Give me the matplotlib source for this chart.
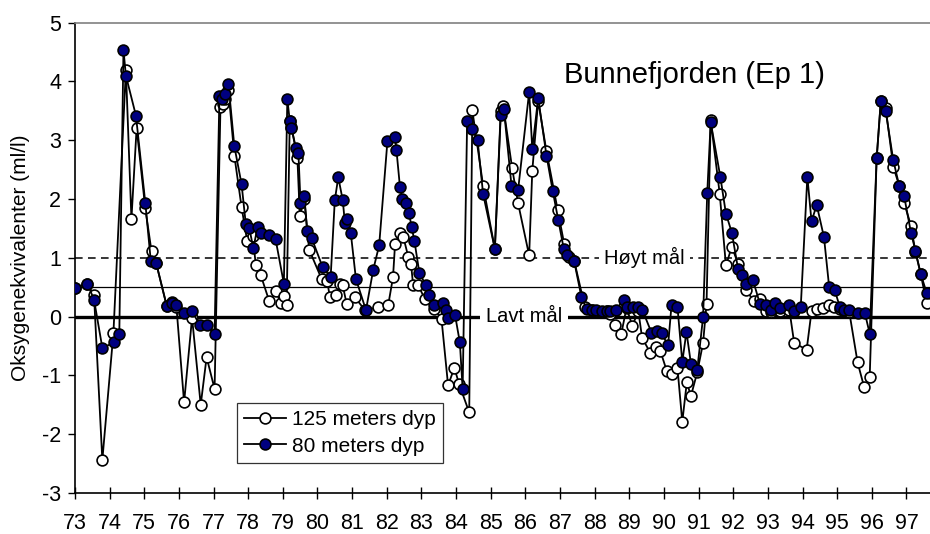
import matplotlib
matplotlib.use("Agg")
import matplotlib.pyplot as plt

plt.rcParams["font.family"] = ["Liberation Sans", "DejaVu Sans"]
plt.rcParams["axes.unicode_minus"] = False

# 125 meters dyp (open markers)
x125 = [73.00, 73.36, 73.55, 73.79, 74.11, 74.47, 74.63, 74.78, 75.03, 75.21,
        75.34, 75.65, 75.81, 75.93, 76.15, 76.38, 76.63, 76.80, 77.03, 77.20,
        77.28, 77.33, 77.43, 77.60, 77.81, 77.97, 78.13, 78.22, 78.36, 78.61,
        78.79, 78.95, 79.03, 79.11, 79.20, 79.25, 79.42, 79.49, 79.62, 79.76,
        80.12, 80.28, 80.36, 80.53, 80.65, 80.73, 80.84, 81.08, 81.37, 81.75,
        82.04, 82.18, 82.24, 82.38, 82.48, 82.62, 82.70, 82.76, 82.91, 83.10,
        83.37, 83.58, 83.77, 83.95, 84.09, 84.38, 84.47, 84.78, 85.12, 85.29,
        85.36, 85.62, 85.79, 86.11, 86.20, 86.37, 86.61, 86.93, 87.12, 87.27,
        87.41, 87.72, 87.91, 88.05, 88.20, 88.35, 88.45, 88.60, 88.77, 88.92,
        89.09, 89.26, 89.37, 89.61, 89.76, 89.90, 90.08, 90.22, 90.39, 90.53,
        90.66, 90.78, 90.96, 91.13, 91.23, 91.35, 91.61, 91.79, 91.96, 92.14,
        92.36, 92.60, 92.77, 92.94, 93.08, 93.20, 93.35, 93.62, 93.76, 94.12,
        94.26, 94.41, 94.60, 94.77, 94.91, 95.08, 95.19, 95.35, 95.59, 95.78,
        95.94, 96.14, 96.26, 96.40, 96.62, 96.79, 96.93, 97.13, 97.26, 97.41,
        97.58]
y125 = [0.49, 0.56, 0.36, -2.44, -0.28, 4.20, 1.66, 3.21, 1.84, 1.11,
        0.92, 0.18, 0.25, 0.16, -1.46, -0.02, -1.50, -0.69, -1.23, 3.57,
        3.62, 3.70, 3.85, 2.74, 1.86, 1.29, 1.37, 0.88, 0.71, 0.26,
        0.43, 0.24, 0.35, 0.19, 3.33, 3.22, 2.70, 1.72, 2.00, 1.14,
        0.64, 0.60, 0.33, 0.37, 0.56, 0.53, 0.22, 0.33, 0.11, 0.16,
        0.19, 0.67, 1.24, 1.42, 1.35, 1.02, 0.90, 0.54, 0.53, 0.30,
        0.13, -0.04, -1.17, -0.87, -1.15, -1.63, 3.51, 2.23, 1.15, 3.50,
        3.59, 2.52, 1.93, 1.04, 2.48, 3.67, 2.81, 1.82, 1.24, 1.01,
        0.95, 0.16, 0.12, 0.10, 0.08, 0.10, 0.05, -0.14, -0.29, 0.15,
        -0.16, 0.10, -0.36, -0.62, -0.52, -0.59, -0.92, -0.97, -0.87, -1.79,
        -1.12, -1.35, -0.95, -0.45, 0.22, 3.34, 2.09, 0.87, 1.19, 0.90,
        0.45, 0.27, 0.30, 0.10, 0.08, 0.20, 0.10, 0.12, -0.45, -0.56,
        0.09, 0.13, 0.15, 0.19, 0.17, 0.13, 0.10, 0.08, -0.78, -1.20,
        -1.02, 2.69, 3.67, 3.55, 2.55, 2.23, 1.94, 1.55, 1.10, 0.73,
        0.24]

# 80 meters dyp (filled markers)
x80 = [73.00, 73.36, 73.55, 73.79, 74.14, 74.28, 74.40, 74.47, 74.76, 75.03,
       75.19, 75.34, 75.65, 75.81, 75.93, 76.15, 76.38, 76.61, 76.80, 77.03,
       77.17, 77.24, 77.33, 77.43, 77.60, 77.81, 77.93, 78.03, 78.15, 78.27,
       78.37, 78.61, 78.79, 79.03, 79.13, 79.20, 79.25, 79.38, 79.45, 79.51,
       79.62, 79.70, 79.83, 80.15, 80.38, 80.50, 80.60, 80.73, 80.79, 80.86,
       80.96, 81.11, 81.40, 81.61, 81.78, 82.02, 82.24, 82.28, 82.38, 82.45,
       82.55, 82.64, 82.72, 82.80, 82.94, 83.12, 83.23, 83.37, 83.61, 83.71,
       83.77, 83.97, 84.11, 84.19, 84.32, 84.45, 84.62, 84.78, 85.12, 85.29,
       85.38, 85.60, 85.79, 86.11, 86.20, 86.37, 86.61, 86.79, 86.95, 87.11,
       87.21, 87.41, 87.62, 87.77, 87.91, 88.05, 88.20, 88.35, 88.44, 88.61,
       88.84, 88.92, 89.11, 89.26, 89.38, 89.64, 89.79, 89.93, 90.12, 90.22,
       90.39, 90.53, 90.65, 90.78, 90.96, 91.13, 91.25, 91.35, 91.63, 91.79,
       91.96, 92.14, 92.24, 92.38, 92.57, 92.77, 92.94, 93.08, 93.20, 93.35,
       93.62, 93.76, 93.95, 94.14, 94.26, 94.41, 94.62, 94.77, 94.93, 95.08,
       95.19, 95.35, 95.59, 95.80, 95.94, 96.14, 96.26, 96.40, 96.62, 96.79,
       96.93, 97.13, 97.26, 97.41, 97.58]
y80 = [0.49, 0.56, 0.29, -0.53, -0.44, -0.29, 4.54, 4.10, 3.42, 1.94,
       0.94, 0.92, 0.18, 0.23, 0.20, 0.06, 0.09, -0.15, -0.15, -0.29,
       3.75, 3.70, 3.79, 3.96, 2.90, 2.25, 1.58, 1.51, 1.16, 1.53,
       1.43, 1.39, 1.32, 0.56, 3.70, 3.33, 3.21, 2.86, 2.78, 1.94,
       2.06, 1.46, 1.34, 0.84, 0.67, 1.98, 2.37, 1.98, 1.60, 1.66,
       1.43, 0.64, 0.11, 0.80, 1.21, 2.99, 3.05, 2.83, 2.21, 2.00,
       1.93, 1.76, 1.52, 1.28, 0.75, 0.54, 0.36, 0.20, 0.24, 0.11,
       -0.02, 0.03, -0.44, -1.23, 3.33, 3.19, 3.01, 2.09, 1.15, 3.43,
       3.53, 2.23, 2.15, 3.82, 2.85, 3.72, 2.74, 2.14, 1.65, 1.15,
       1.04, 0.94, 0.33, 0.13, 0.11, 0.12, 0.10, 0.09, 0.10, 0.12,
       0.28, 0.16, 0.17, 0.17, 0.11, -0.27, -0.24, -0.28, -0.49, 0.20,
       0.17, -0.77, -0.26, -0.80, -0.91, -0.01, 2.10, 3.31, 2.37, 1.75,
       1.43, 0.81, 0.70, 0.56, 0.62, 0.22, 0.19, 0.11, 0.24, 0.15,
       0.20, 0.10, 0.17, 2.38, 1.62, 1.90, 1.35, 0.50, 0.45, 0.16,
       0.11, 0.11, 0.07, 0.06, -0.29, 2.69, 3.66, 3.50, 2.66, 2.23,
       2.06, 1.43, 1.12, 0.73, 0.41]

year_ticks = list(range(73, 98))
y_ticks = list(range(-3, 6))

fig = plt.figure(figsize=(9.3, 5.34), dpi=100)
ax = fig.add_axes([0.0806, 0.0768, 0.9194, 0.8807])

# reference lines
ax.axhline(1, color="black", lw=1.1, ls=(0, (5, 3.5)), zorder=1)
ax.axhline(0.5, color="black", lw=0.9, zorder=1)
ax.axhline(0, color="black", lw=2.4, zorder=1)

ax.plot(x125, y125, "-o", color="black", lw=1.3, ms=7.8, mfc="white",
        mec="black", mew=1.2, label="125 meters dyp", zorder=3)
ax.plot(x80, y80, "-o", color="black", lw=1.3, ms=7.8, mfc="#000080",
        mec="black", mew=1.2, label="80 meters dyp", zorder=4)

ax.text(89.44, 1.0, "Høyt mål", ha="center", va="center", fontsize=14.5,
        bbox=dict(facecolor="white", edgecolor="none", pad=4), zorder=2)
ax.text(85.96, 0.0, "Lavt mål", ha="center", va="center", fontsize=14.5,
        bbox=dict(facecolor="white", edgecolor="none", pad=4), zorder=2)
ax.text(90.89, 3.97, "Bunnefjorden (Ep 1)", ha="center", va="baseline",
        fontsize=21)

ax.set_xlim(73, 97.68)
ax.set_ylim(-3, 5)
ax.set_xticks(year_ticks)
ax.set_yticks(y_ticks)
ax.tick_params(axis="x", direction="inout", length=9, width=1, pad=10,
               labelsize=15.5)
ax.tick_params(axis="y", direction="out", length=5, width=1, pad=5,
               labelsize=15.5)
ax.set_ylabel("Oksygenekvivalenter (ml/l)", fontsize=15)
ax.yaxis.set_label_coords(-0.053, 0.5)

ax.spines["right"].set_visible(False)
ax.spines["top"].set_color("#808080")
ax.spines["top"].set_linewidth(1.2)
ax.spines["left"].set_linewidth(1.2)
ax.spines["bottom"].set_linewidth(1.2)

leg = ax.legend(loc="lower left", bbox_to_anchor=(0.189, 0.064),
                borderaxespad=0, fontsize=15, frameon=True, fancybox=False,
                handlelength=2.0, handletextpad=0.3, labelspacing=0.35,
                borderpad=0.35)
leg.get_frame().set_edgecolor("black")
leg.get_frame().set_linewidth(0.9)

fig.savefig("out.png", dpi=100)
